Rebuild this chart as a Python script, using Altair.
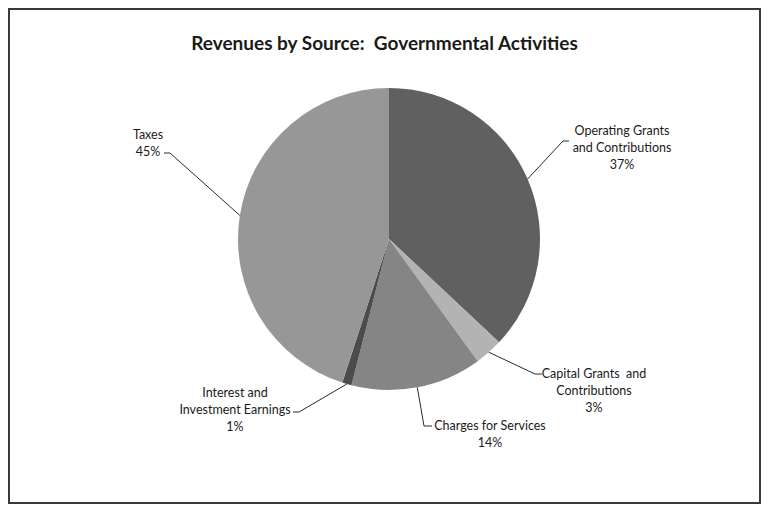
import math
import altair as alt
import pandas as pd

# ---- data ----
categories = ["Operating Grants and Contributions", "Capital Grants and Contributions",
              "Charges for Services", "Interest and Investment Earnings", "Taxes"]
shares = [37, 3, 14, 1, 45]
label_lines = [["Operating Grants", "and Contributions"],
               ["Capital Grants\u00a0 and", "Contributions"],
               ["Charges for Services"],
               ["Interest and", "Investment Earnings"],
               ["Taxes"]]
colors = ["#606060", "#b3b3b3", "#858585", "#4c4c4c", "#979797"]
title_text = "Revenues by Source:\u00a0 Governmental Activities"

# ---- layout (page pixel coordinates) ----
W, H = 753, 496
CX, CY, R = 389, 239, 151
label_pos = [(622, 131), (594, 374), (490, 426), (235, 393), (148, 135)]
elbows = [[(563, 141), (569, 141)],
          [(535, 374), (542, 374)],
          [(424, 426), (432, 426)],
          [(299, 412), (293, 412)],
          [(170, 153), (164, 153)]]
LINE_H = 17
FONT = "Lato"

pie_df = pd.DataFrame({"category": categories, "share": shares,
                       "idx": list(range(len(categories)))})

rows = []
cum = 0
for i, (c, s) in enumerate(zip(categories, shares)):
    mid = (cum + s / 2) / sum(shares) * 2 * math.pi
    cum += s
    sx = CX + R * math.sin(mid)
    sy = CY - R * math.cos(mid)
    pts = [(sx, sy)] + elbows[i]
    for j, (px, py) in enumerate(pts):
        rows.append({"category": c, "k": j, "px": px, "py": py})
lead_df = pd.DataFrame(rows)

trows = []
for i, c in enumerate(categories):
    lines = label_lines[i] + [f"{shares[i]}%"]
    for j, t in enumerate(lines):
        trows.append({"text": t, "px": label_pos[i][0], "py": label_pos[i][1] + j * LINE_H})
text_df = pd.DataFrame(trows)

xs = alt.Scale(domain=[8, 8 + W], nice=False, zero=False)
ys = alt.Scale(domain=[8 + H, 8], nice=False, zero=False)

border = alt.Chart(pd.DataFrame({"a": [0]})).mark_rect(
    fill="white", stroke="#3a3a3a", strokeWidth=2).encode(
    x=alt.value(1), x2=alt.value(W - 1), y=alt.value(1), y2=alt.value(H - 1))

pie = alt.Chart(pie_df).mark_arc(outerRadius=R).encode(
    theta=alt.Theta("share:Q", stack=True),
    color=alt.Color("category:N", scale=alt.Scale(domain=categories, range=colors), legend=None),
    order=alt.Order("idx:Q"),
    x=alt.value(CX - 8),
    y=alt.value(CY - 8),
)

leads = alt.Chart(lead_df).mark_line(color="#2a2a2a", strokeWidth=1).encode(
    x=alt.X("px:Q", scale=xs, axis=None),
    y=alt.Y("py:Q", scale=ys, axis=None),
    detail="category:N",
    order="k:Q",
)

labels = alt.Chart(text_df).mark_text(font=FONT, fontSize=12.5, color="#1a1a1a",
                                      align="center", baseline="middle").encode(
    x=alt.X("px:Q", scale=xs, axis=None),
    y=alt.Y("py:Q", scale=ys, axis=None),
    text="text:N",
)

chart = alt.layer(border, pie, leads, labels).properties(
    width=W, height=H,
    autosize=alt.AutoSizeParams(type="none"),
    padding=0,
    title=alt.TitleParams(title_text,
                          font=FONT, fontSize=19, fontWeight="bold", color="#1a1a1a",
                          anchor="middle", orient="top", offset=-46),
).configure_view(stroke=None).configure(background="white")

chart.save("out.html", embed_options={"renderer": "svg", "actions": False})
